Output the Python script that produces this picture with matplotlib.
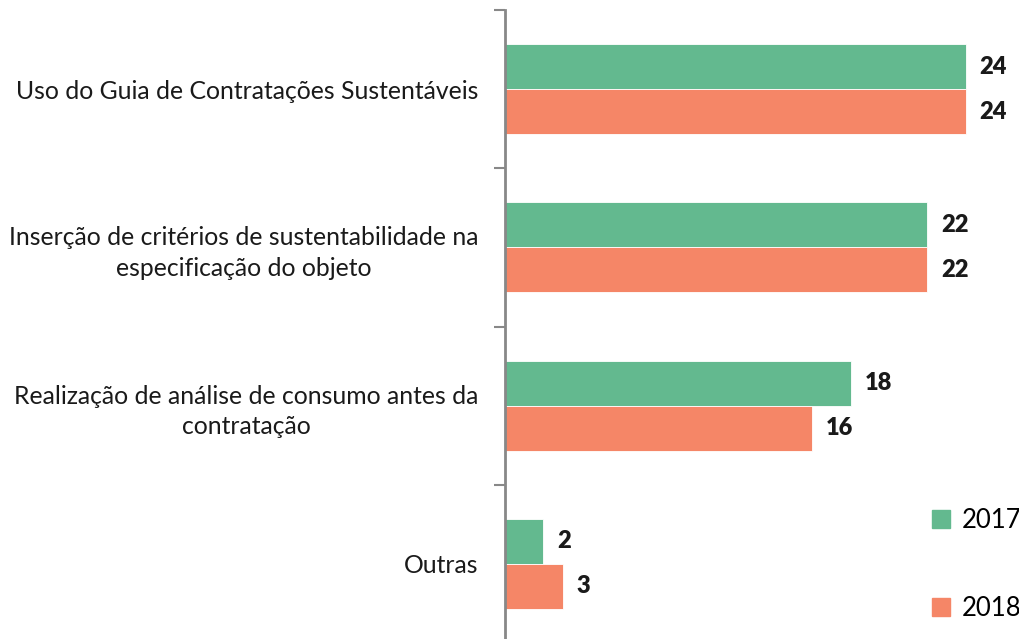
import matplotlib.pyplot as plt
import numpy as np
from matplotlib.patches import Patch

categories = [
    "Uso do Guia de Contratações Sustentáveis",
    "Inserção de critérios de sustentabilidade na\nespecificação do objeto",
    "Realização de análise de consumo antes da\ncontratação",
    "Outras",
]
values_2017 = [24, 22, 18, 2]
values_2018 = [24, 22, 16, 3]
series_labels = ["2017", "2018"]

GREEN = "#63b98f"
ORANGE = "#f58667"

plt.rcParams["font.family"] = ["Lato", "DejaVu Sans"]

fig = plt.figure(figsize=(10.2, 6.39), dpi=100)
ax = fig.add_axes([505 / 1020, -4 / 639, 515 / 1020, 633 / 639])

y = np.arange(len(categories))
h = 0.285
ax.barh(y - h / 2, values_2017, height=h, color=GREEN, edgecolor="white", linewidth=0.6)
ax.barh(y + h / 2, values_2018, height=h, color=ORANGE, edgecolor="white", linewidth=0.6)

for yi, v in zip(y - h / 2, values_2017):
    ax.text(v + 0.72, yi, str(v), va="center", ha="left", fontsize=17, fontweight="heavy", color="#1a1a1a")
for yi, v in zip(y + h / 2, values_2018):
    ax.text(v + 0.72, yi, str(v), va="center", ha="left", fontsize=17, fontweight="heavy", color="#1a1a1a")

ax.set_xlim(0, 515 / 19.2)
ax.set_ylim(len(categories) - 0.5, -0.5)
ax.set_yticks(y)
ax.set_yticklabels(categories, fontsize=17.8, color="#1a1a1a", multialignment="center", linespacing=1.4)
ax.tick_params(axis="y", length=0, pad=19)
ax.set_yticks(np.arange(len(categories)) - 0.5, minor=True)
ax.tick_params(axis="y", which="minor", length=8, width=1.5, color="#888888")
ax.set_xticks([])
for side in ["top", "right", "bottom"]:
    ax.spines[side].set_visible(False)
ax.spines["left"].set_color("#888888")
ax.spines["left"].set_linewidth(2)

handles = [Patch(color=GREEN), Patch(color=ORANGE)]
fig.legend(handles, series_labels, loc="lower right", bbox_to_anchor=(1.014, 0.008),
           frameon=False, fontsize=18.5, handlelength=0.7, handleheight=0.7,
           handletextpad=0.45, labelspacing=2.45, borderaxespad=0.1)

fig.savefig("out.png", dpi=100)
